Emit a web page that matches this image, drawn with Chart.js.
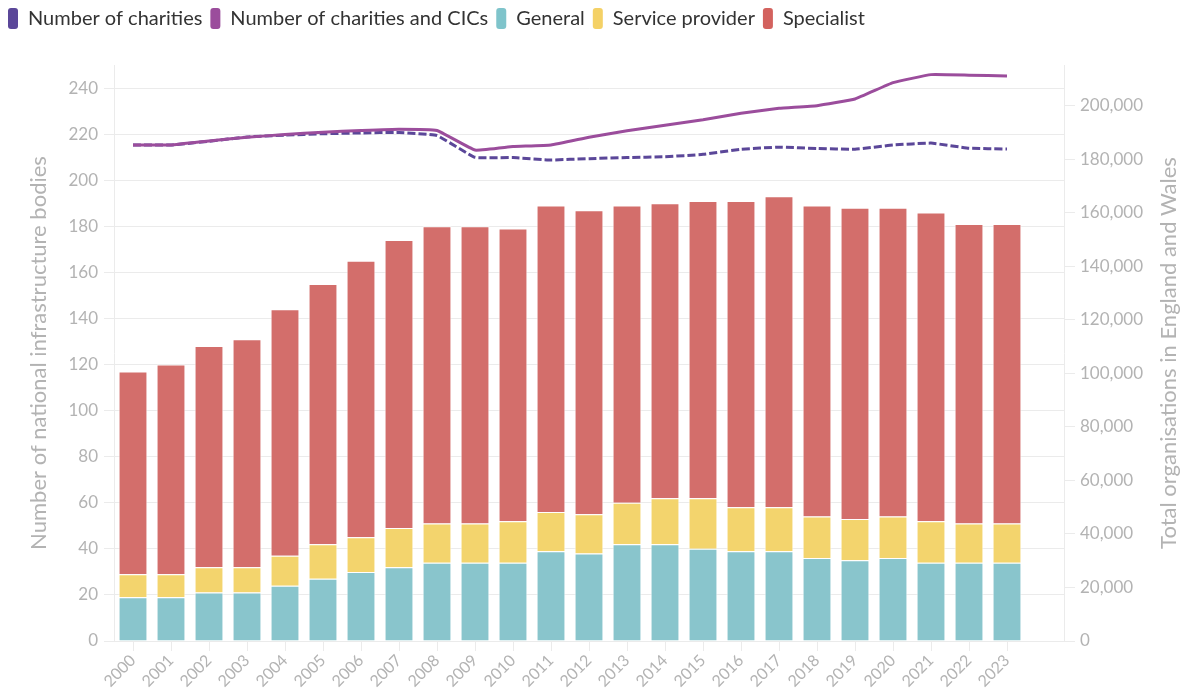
<!DOCTYPE html>
<html>
<head>
<meta charset="utf-8">
<script src="https://cdn.jsdelivr.net/npm/chart.js@4.4.1/dist/chart.umd.min.js"></script>
<style>
  html, body { margin: 0; padding: 0; background: #fff; }
</style>
</head>
<body>
<canvas id="chart" width="1187" height="694"></canvas>
<script>
const years = ['2000','2001','2002','2003','2004','2005','2006','2007','2008','2009','2010','2011',
               '2012','2013','2014','2015','2016','2017','2018','2019','2020','2021','2022','2023'];

// national infrastructure bodies (left axis)
const general         = [19,19,21,21,24,27,30,32,34,34,34,39,38,42,42,40,39,39,36,35,36,34,34,34];
const serviceProvider = [10,10,11,11,13,15,15,17,17,17,18,17,17,18,20,22,19,19,18,18,18,18,17,17];
const specialist      = [88,91,96,99,107,113,120,125,129,129,127,133,132,129,128,129,133,135,135,135,134,134,130,130];

// total organisations (right axis)
const charities = [185400,185400,186800,188400,189100,189600,189900,190100,188900,180800,180700,179800,
                   180300,180700,181000,181900,183800,184600,184100,183800,185400,186100,184200,183900];
const charitiesAndCics = [185400,185400,186900,188300,189300,190200,190800,191300,190800,183500,184800,185400,
                          188300,190700,192800,194800,197300,199100,200100,202600,208700,211700,211500,211200];

const rightTicks = [0, 20000, 40000, 60000, 80000, 100000, 120000, 140000, 160000, 180000, 200000];

const legendColours = ['#5b4799', '#9b4d9c', '#7fc4cb', '#f4d166', '#d3625e'];
const grey = '#b3b3b3';
const gridGrey = '#ebebeb';
const fontFamily = 'Lato, "Noto Sans", sans-serif';

// push the plot down below the legend like the original
const legendGap = {
  id: 'legendGap',
  beforeLayout(chart) {
    if (chart.legend && !chart.legend._gapped) {
      const fit = chart.legend.fit;
      chart.legend.fit = function () { fit.call(this); this.height += 26; };
      chart.legend._gapped = true;
    }
  }
};

// right axis title reads bottom-to-top in the original
const rightTitle = {
  id: 'rightTitle',
  afterDraw(chart) {
    const ctx = chart.ctx;
    const area = chart.chartArea;
    ctx.save();
    ctx.translate(1169, (area.top + area.bottom) / 2);
    ctx.rotate(-Math.PI / 2);
    ctx.font = '22px ' + fontFamily;
    ctx.fillStyle = grey;
    ctx.textAlign = 'center';
    ctx.textBaseline = 'middle';
    ctx.fillText('Total organisations in England and Wales', 0, 0);
    ctx.restore();
  }
};

new Chart(document.getElementById('chart'), {
  type: 'bar',
  data: {
    labels: [...years, ''],
    datasets: [
      {
        type: 'line',
        label: 'Number of charities',
        data: charities,
        yAxisID: 'y1',
        borderColor: '#5b4799',
        backgroundColor: '#5b4799',
        borderWidth: 3,
        borderDash: [8, 3],
        pointRadius: 0,
        tension: 0.1,
        order: 1
      },
      {
        type: 'line',
        label: 'Number of charities and CICs',
        data: charitiesAndCics,
        yAxisID: 'y1',
        borderColor: '#9b4d9c',
        backgroundColor: '#9b4d9c',
        borderWidth: 3,
        pointRadius: 0,
        tension: 0.1,
        order: 0
      },
      {
        label: 'General',
        data: general,
        backgroundColor: '#89c5cc',
        borderColor: 'rgba(255,255,255,0.9)',
        borderWidth: 1,
        order: 2
      },
      {
        label: 'Service provider',
        data: serviceProvider,
        backgroundColor: '#f3d46d',
        borderColor: 'rgba(255,255,255,0.9)',
        borderWidth: 1,
        order: 2
      },
      {
        label: 'Specialist',
        data: specialist,
        backgroundColor: '#d36e6b',
        borderColor: 'rgba(255,255,255,0.9)',
        borderWidth: 1,
        order: 2
      }
    ]
  },
  options: {
    responsive: false,
    animation: false,
    barPercentage: 0.76,
    categoryPercentage: 1,
    layout: { padding: 0 },
    plugins: {
      tooltip: { enabled: false },
      legend: {
        position: 'top',
        align: 'start',
        labels: {
          boxWidth: 10,
          boxHeight: 21,
          useBorderRadius: true,
          borderRadius: 3,
          padding: 8,
          color: '#333',
          font: { family: fontFamily, size: 20 },
          sort: (a, b) => a.datasetIndex - b.datasetIndex,
          generateLabels(chart) {
            const items = Chart.defaults.plugins.legend.labels.generateLabels(chart);
            return items.map(item => Object.assign(item, {
              fillStyle: legendColours[item.datasetIndex],
              strokeStyle: legendColours[item.datasetIndex],
              lineWidth: 0,
              lineDash: [],
              borderRadius: 3
            }));
          }
        }
      }
    },
    scales: {
      x: {
        stacked: true,
        grid: {
          offset: false,
          drawOnChartArea: false,
          tickLength: 10,
          color: ctx => ctx.index === years.length ? 'rgba(0,0,0,0)' : gridGrey
        },
        border: { display: false },
        ticks: {
          minRotation: 45,
          maxRotation: 45,
          autoSkip: false,
          padding: 0,
          color: grey,
          font: { family: fontFamily, size: 16 }
        },
        afterFit(scale) { scale.height = 53; }
      },
      y: {
        position: 'left',
        stacked: true,
        min: 0,
        max: 250,
        grid: { color: gridGrey, tickLength: 10 },
        border: { color: gridGrey },
        ticks: {
          stepSize: 20,
          includeBounds: false,
          padding: 6,
          color: grey,
          font: { family: fontFamily, size: 17 }
        },
        title: {
          display: true,
          text: 'Number of national infrastructure bodies',
          color: grey,
          font: { family: fontFamily, size: 22 },
          padding: { top: 26, bottom: 0 }
        },
        afterFit(scale) { scale.width = 114; }
      },
      y1: {
        position: 'right',
        min: 0,
        max: 215300,
        grid: { drawOnChartArea: false, color: gridGrey, tickLength: 11 },
        border: { color: gridGrey },
        ticks: {
          padding: 5,
          color: grey,
          font: { family: fontFamily, size: 17 },
          callback: v => v.toLocaleString('en-GB')
        },
        afterBuildTicks(scale) { scale.ticks = rightTicks.map(value => ({ value })); },
        afterFit(scale) { scale.width = 123; }
      }
    }
  },
  plugins: [legendGap, rightTitle]
});
</script>
</body>
</html>
